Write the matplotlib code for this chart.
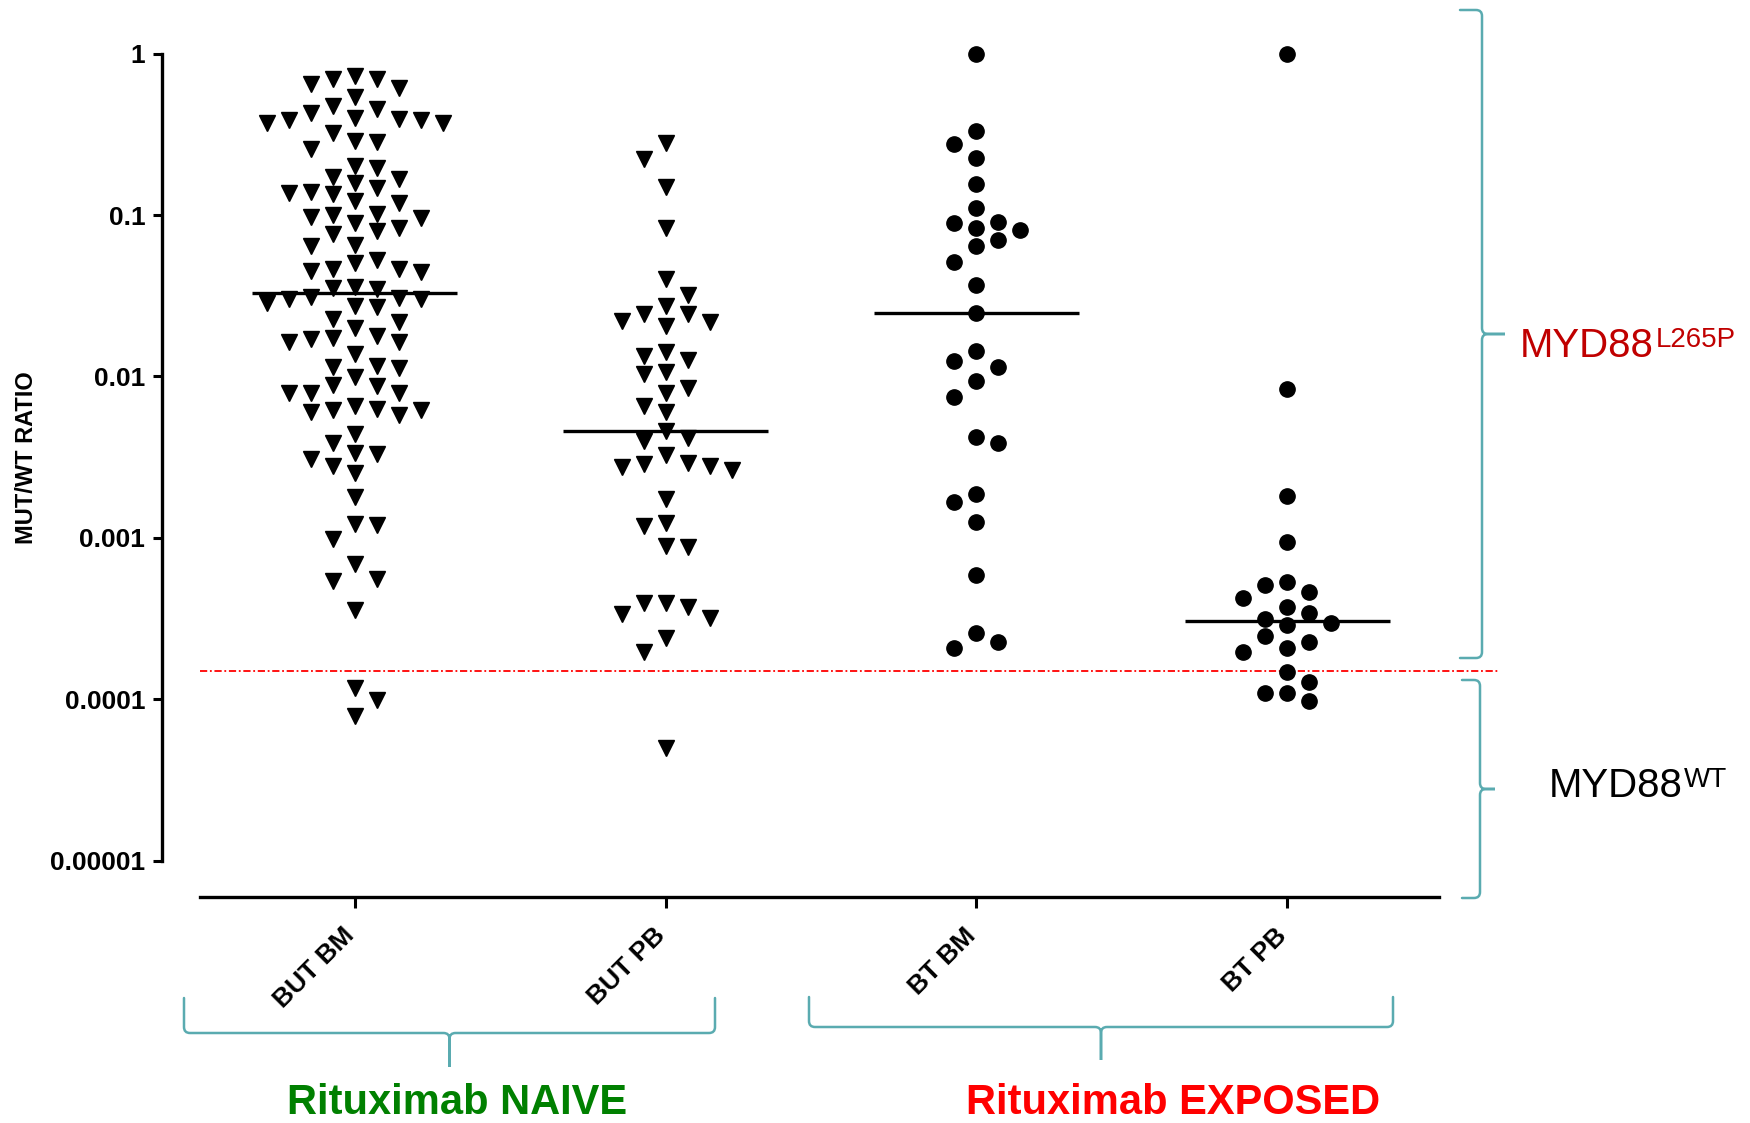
"""MYD88 L265P mutant/wild-type ratio by sample group (column scatter, log scale)."""
import numpy as np
import matplotlib
matplotlib.use("Agg")
import matplotlib.pyplot as plt
from matplotlib.path import Path
from matplotlib.patches import PathPatch
from matplotlib.transforms import ScaledTranslation

plt.rcParams["font.family"] = ["Liberation Sans", "DejaVu Sans"]

W, H = 1750, 1123

# ---- data ----
GROUPS = ["BUT BM", "BUT PB", "BT BM", "BT PB"]
MARKERS = ["v", "v", "o", "o"]

BUT_BM = [0.726, 0.693, 0.693, 0.645, 0.615, 0.541, 0.473, 0.452, 0.431, 0.401,
          0.395, 0.388, 0.388, 0.373, 0.373, 0.324, 0.287, 0.283, 0.255, 0.201,
          0.196, 0.173, 0.168, 0.157, 0.146, 0.1395, 0.1375, 0.135, 0.1215, 0.118,
          0.1015, 0.1, 0.0976, 0.0954, 0.0888, 0.0827, 0.0796, 0.0759, 0.0652, 0.0646,
          0.0526, 0.0502, 0.0465, 0.0461, 0.045, 0.0446, 0.036, 0.0353, 0.0346, 0.0312,
          0.0306, 0.0302, 0.030, 0.0284, 0.0274, 0.027, 0.0226, 0.0218, 0.020, 0.0178,
          0.0172, 0.017, 0.0164, 0.0164, 0.0137, 0.0116, 0.0115, 0.0112, 0.00996, 0.00885,
          0.00872, 0.00786, 0.00786, 0.00786, 0.00656, 0.00625, 0.00619, 0.00619, 0.00599,
          0.00577, 0.00438, 0.00389, 0.00337, 0.00329, 0.00308, 0.00277, 0.00253, 0.0018,
          0.00122, 0.0012, 0.00098, 0.000685, 0.000553, 0.000543, 0.000357, 0.000118,
          0.0000989, 0.0000791]
BUT_PB = [0.278, 0.221, 0.150, 0.0827, 0.0399, 0.0319, 0.0274, 0.0243, 0.0243, 0.022,
          0.0216, 0.0206, 0.0142, 0.0134, 0.0126, 0.0106, 0.0104, 0.00844, 0.00793,
          0.00656, 0.00605, 0.00461, 0.00413, 0.0040, 0.00326, 0.00292, 0.00285, 0.0028,
          0.00276, 0.00263, 0.00173, 0.00124, 0.00118, 0.00089, 0.000873, 0.000396,
          0.000396, 0.000374, 0.000336, 0.000317, 0.000238, 0.000197, 0.0000496]
BT_BM = [1.0, 0.333, 0.274, 0.2265, 0.155, 0.11, 0.0909, 0.0888, 0.0835, 0.0807,
         0.07, 0.0643, 0.0509, 0.0368, 0.0248, 0.0144, 0.0125, 0.0114, 0.0093, 0.0075,
         0.00423, 0.00385, 0.00186, 0.00167, 0.00125, 0.000588, 0.000256, 0.000227,
         0.000207]
BT_PB = [1.0, 0.00835, 0.00182, 0.000946, 0.000535, 0.00051, 0.000464, 0.000426,
         0.000374, 0.000344, 0.000315, 0.000298, 0.000287, 0.000246, 0.000226,
         0.000207, 0.000197, 0.000148, 0.000128, 0.000109, 0.000109, 0.000098]
SERIES = [BUT_BM, BUT_PB, BT_BM, BT_PB]

CUTOFF = 1.5e-4
YTICKS = [1e-5, 1e-4, 1e-3, 1e-2, 1e-1, 1]
YTICK_LABELS = ["0.00001", "0.0001", "0.001", "0.01", "0.1", "1"]

TEAL = "#5aabb0"


def swarm_x(ax, values, center, step_px=22, min_dy=17):
    """Grid-slot beeswarm: put each point in the nearest free column slot."""
    vals = np.asarray(values, dtype=float)
    ys = ax.transData.transform(np.column_stack([np.full(len(vals), center), vals]))[:, 1]
    px_per_unit = ax.transData.transform((1, 1))[0] - ax.transData.transform((0, 1))[0]
    placed = {}
    slots = np.zeros(len(vals))
    for i in np.argsort(-vals, kind="stable"):
        for k in range(0, 12):
            cands = [0] if k == 0 else [-k, k]
            if k:
                left = sum(len(placed[s]) for s in placed if s < 0)
                right = sum(len(placed[s]) for s in placed if s > 0)
                if right < left:
                    cands = [k, -k]
            ok = [c for c in cands
                  if all(abs(ys[i] - y) >= min_dy for y in placed.get(c, []))]
            if ok:
                placed.setdefault(ok[0], []).append(ys[i])
                slots[i] = ok[0]
                break
    return center + slots * step_px / px_per_unit


def brace(fig, p0, p1, normal, a, b, r=6, color=TEAL, lw=1.8):
    """Curly brace between hook ends p0, p1 (pixel coords, y down)."""
    p0, p1, n = np.array(p0, float), np.array(p1, float), np.array(normal, float)
    u = (p1 - p0) / np.linalg.norm(p1 - p0)
    B, C = p0 + n * a, p1 + n * a
    M = (B + C) / 2
    T = M + n * b
    verts = [p0, p0 + n * (a - r), B, B + u * r, M - u * r, M, M + n * r, T,
             M + n * r, M, M + u * r, C - u * r, C, C - n * r, p1]
    codes = [Path.MOVETO, Path.LINETO, Path.CURVE3, Path.CURVE3, Path.LINETO,
             Path.CURVE3, Path.CURVE3, Path.LINETO, Path.LINETO, Path.CURVE3,
             Path.CURVE3, Path.LINETO, Path.CURVE3, Path.CURVE3, Path.LINETO]
    v = np.array([[x / W, 1 - y / H] for x, y in verts])
    fig.add_artist(PathPatch(Path(v, codes), fill=False, edgecolor=color, lw=lw,
                             transform=fig.transFigure, capstyle="round"))


fig = plt.figure(figsize=(W / 100, H / 100), dpi=100)
ax = fig.add_axes([162 / W, 1 - 897 / H, 1278 / W, 857 / H])
ax.set_yscale("log")
ax.set_ylim(10 ** -5.2255, 10 ** 0.0843)
ax.set_xlim(-0.621, 3.492)

for i, (vals, mk) in enumerate(zip(SERIES, MARKERS)):
    xs = swarm_x(ax, vals, i)
    ax.plot(xs, vals, ls="none", marker=mk, ms=11, color="black",
            mec="black", clip_on=False, zorder=3)
    med = np.median(vals)
    ax.hlines(med, i - 0.33, i + 0.33, color="black", lw=2.4, zorder=4)

ax.hlines(CUTOFF, -0.5, 3.686, color="red", lw=1.3, clip_on=False,
          linestyles=[(0, (4, 1.5, 1, 1.5))], zorder=2)

# GraphPad-like axes
for s in ["top", "right"]:
    ax.spines[s].set_visible(False)
ax.spines["left"].set_bounds(1e-5, 1)
ax.spines["bottom"].set_bounds(-0.5, 3.49)
for s in ["left", "bottom"]:
    ax.spines[s].set_linewidth(2.4)

ax.set_yticks(YTICKS)
ax.set_yticklabels(YTICK_LABELS, fontsize=19, fontweight="bold")
ax.minorticks_off()
ax.tick_params(axis="y", length=6.5, width=2.2, pad=5.5)
ax.tick_params(axis="x", length=8, width=2.2, pad=11)
ax.set_xticks(range(len(GROUPS)))
ax.set_xticklabels(GROUPS, fontsize=19, fontweight="bold", rotation=45,
                   ha="right", va="top")
for lab in ax.get_xticklabels():
    lab.set_transform(lab.get_transform() + ScaledTranslation(4 / 100, 0, fig.dpi_scale_trans))

fig.text(27 / W, 1 - 458 / H, "MUT/WT RATIO", rotation=90, fontsize=17,
         fontweight="bold", ha="center", va="center")

# brackets
brace(fig, (1460, 10), (1460, 658), (1, 0), 22, 23)
brace(fig, (1462, 680), (1462, 898), (1, 0), 18, 15)
brace(fig, (184, 998), (715, 998), (0, 1), 35, 34)
brace(fig, (809, 997), (1393, 997), (0, 1), 30, 33)

t1 = fig.text(1520 / W, 1 - 357 / H, "MYD88", fontsize=29, color="#c00000",
              ha="left", va="baseline")
ax.annotate("L265P", xy=(1.0, 1.0), xycoords=t1, xytext=(1, 0),
            textcoords="offset points", fontsize=20, color="#c00000",
            ha="left", va="top")
t2 = fig.text(1549 / W, 1 - 797 / H, "MYD88", fontsize=29, color="black",
              ha="left", va="baseline")
ax.annotate("WT", xy=(1.0, 1.0), xycoords=t2, xytext=(1, 0),
            textcoords="offset points", fontsize=20, color="black",
            ha="left", va="top")

fig.text(457 / W, 1 - 1114 / H, "Rituximab NAIVE", fontsize=30, fontweight="bold",
         color="#008000", ha="center", va="baseline")
fig.text(1173 / W, 1 - 1114 / H, "Rituximab EXPOSED", fontsize=30, fontweight="bold",
         color="#ff0000", ha="center", va="baseline")

fig.savefig("out.png", dpi=100, facecolor="white")
